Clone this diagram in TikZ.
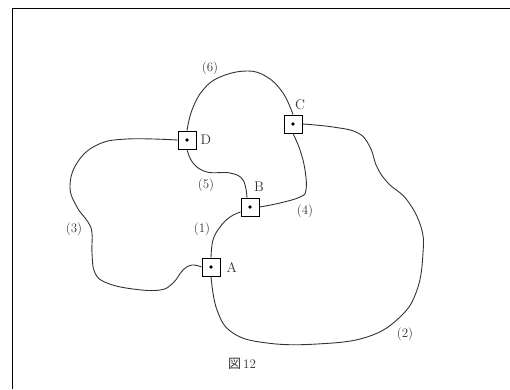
\documentclass[tikz,border=0pt]{standalone}
\usepackage{fontspec}
\newfontfamily\jpfont{Noto Sans CJK JP}
\usetikzlibrary{positioning}

\tikzset{
  joint/.style={draw, fill=white, minimum size=18pt, inner sep=0pt, line width=0.9pt},
  cable/.style={line width=0.9pt, black!80},
  tag/.style={font=\fontsize{14}{16}\selectfont, inner sep=1pt, black!80},
  seg/.style={font=\fontsize{13}{15}\selectfont, inner sep=1pt, black!80},
}

\begin{document}
\begin{tikzpicture}[x=1pt, y=-1pt]
  \useasboundingbox (0,0) rectangle (510,389);
  \draw[line width=0.8pt] (12,389) -- (12,8) -- (510,8);
  % junction boxes
  \node[joint] (A) at (211,267) {};
  \node[joint] (B) at (250,207) {};
  \node[joint] (C) at (293,124) {};
  \node[joint] (D) at (187,140) {};
  \foreach \n in {A,B,C,D} \fill (\n) circle (1.8pt);
  \node[tag, right=5pt of A] {A};
  \node[tag, above=5pt of B, xshift=9pt] {B};
  \node[tag, above=4pt of C, xshift=7pt] {C};
  \node[tag, right=3pt of D] {D};
  % cables
  \draw[cable] plot[smooth, tension=0.7] coordinates {(D.north) (192,110) (203,90) (220,77) (247,71) (267,77) (283,93) (C.north)};
  \draw[cable] plot[smooth, tension=0.7] coordinates {(C.south) (300,150) (305,170) (306,190) (300,197) (280,203) (B.east)};
  \draw[cable] plot[smooth, tension=0.7] coordinates {(C.east) (333,127) (358,133) (370,147) (377,167) (388,183) (407,200) (421,227) (423,253) (417,290) (400,317) (367,337) (317,344) (267,343) (233,333) (217,310) (A.south)};
  \draw[cable] plot[smooth, tension=0.7] coordinates {(A.north) (213,240) (220,227) (230,217) ([yshift=-5pt]B.west)};
  \draw[cable] plot[smooth, tension=0.7] coordinates {(A.west) (192,265) (183,270) (173,283) (160,290) (133,289) (107,283) (95,273) (92,253) (92,233) (88,222) (77,207) (70,187) (77,163) (97,145) (127,139) (D.west)};
  \draw[cable] plot[smooth, tension=0.7] coordinates {(D.south) (193,163) (207,172) (230,173) (243,180) ([xshift=-3pt]B.north)};
  % cable numbers
  \node[seg] (n1) at (202,229) {(1)};
  \node[seg] (n2) at (405,334) {(2)};
  \node[seg] (n3) at (74,229) {(3)};
  \node[seg] (n4) at (305,211) {(4)};
  \node[seg] (n5) at (206,185) {(5)};
  \node[seg] (n6) at (210,68) {(6)};
  \node[font=\fontsize{13}{15}\selectfont, black!80] (fig) at (242,364) {{\jpfont 図}\,12};
\end{tikzpicture}
\end{document}
